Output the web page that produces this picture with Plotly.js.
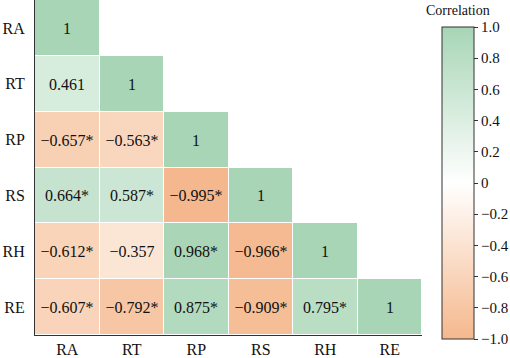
<!DOCTYPE html>
<html><head><meta charset="utf-8">
<script src="https://cdn.plot.ly/plotly-3.0.1.min.js"></script>
<style>body{margin:0;background:#fff}#c{width:510px;height:358px}</style>
</head><body><div id="c"></div>
<script>
const labels = ['RA','RT','RP','RS','RH','RE'];
const rowRA = [1, null, null, null, null, null];
const rowRT = [0.461, 1, null, null, null, null];
const rowRP = [-0.657, -0.563, 1, null, null, null];
const rowRS = [0.664, 0.587, -0.995, 1, null, null];
const rowRH = [-0.612, -0.357, 0.968, -0.966, 1, null];
const rowRE = [-0.607, -0.792, 0.875, -0.909, 0.795, 1];
const sigRA = [false];
const sigRT = [false, false];
const sigRP = [true, true, false];
const sigRS = [true, true, true, false];
const sigRH = [true, false, true, true, false];
const sigRE = [true, true, true, true, true, false];
const colorTicks = [-1, -0.8, -0.6, -0.4, -0.2, 0, 0.2, 0.4, 0.6, 0.8, 1];
const colorTickText = ['\u22121.0','\u22120.8','\u22120.6','\u22120.4','\u22120.2','0','0.2','0.4','0.6','0.8','1.0'];
const colorTitle = 'Correlation';

const z = [rowRA, rowRT, rowRP, rowRS, rowRH, rowRE];
const sig = [sigRA, sigRT, sigRP, sigRS, sigRH, sigRE];
function fmt(v, s){
  if (v === null) return '';
  if (v === 1) return '1';
  let t = Math.abs(v).toFixed(3);
  return (v < 0 ? '\u2212' : '') + t + (s ? '*' : '');
}
const text = z.map((r,i)=>r.map((v,j)=>fmt(v, sig[i][j])));

const font = 'Liberation Serif, Times New Roman, serif';
Plotly.newPlot('c', [{
  type:'heatmap', z:z, x:labels, y:labels, text:text, texttemplate:'%{text}',
  textfont:{family:font, size:16, color:'#111'},
  zmin:-1, zmax:1, xgap:1, ygap:1, hoverongaps:false,
  colorscale:[[0,'#f5b88d'],[0.5,'#ffffff'],[1,'#a7d5b5']],
  colorbar:{
    thickness:32, thicknessmode:'pixels', len:312, lenmode:'pixels',
    x:1.052, xanchor:'left', xpad:0, y:-0.012, yanchor:'bottom', ypad:0,
    outlinewidth:1, outlinecolor:'#333',
    tickvals:colorTicks, ticktext:colorTickText, ticks:'outside', ticklen:4, tickcolor:'#333',
    tickfont:{family:font, size:15, color:'#111'}
  }
}], {
  width:510, height:358,
  margin:{l:35, r:88, t:0, b:23},
  paper_bgcolor:'#fff', plot_bgcolor:'#fff',
  annotations:[{text:colorTitle, xref:'paper', yref:'paper', x:1.093, y:0.970,
    xanchor:'center', yanchor:'middle', showarrow:false,
    font:{family:font, size:14, color:'#111'}}],
  xaxis:{showgrid:false, zeroline:false, showline:true, linecolor:'#333', linewidth:1,
    ticks:'', tickfont:{family:font, size:16, color:'#111'}, fixedrange:true},
  yaxis:{autorange:'reversed', showgrid:false, zeroline:false, showline:true, linecolor:'#333', linewidth:1,
    ticks:'', ticklabelstandoff:6, tickfont:{family:font, size:16, color:'#111'}, fixedrange:true}
}, {staticPlot:true});
</script></body></html>
